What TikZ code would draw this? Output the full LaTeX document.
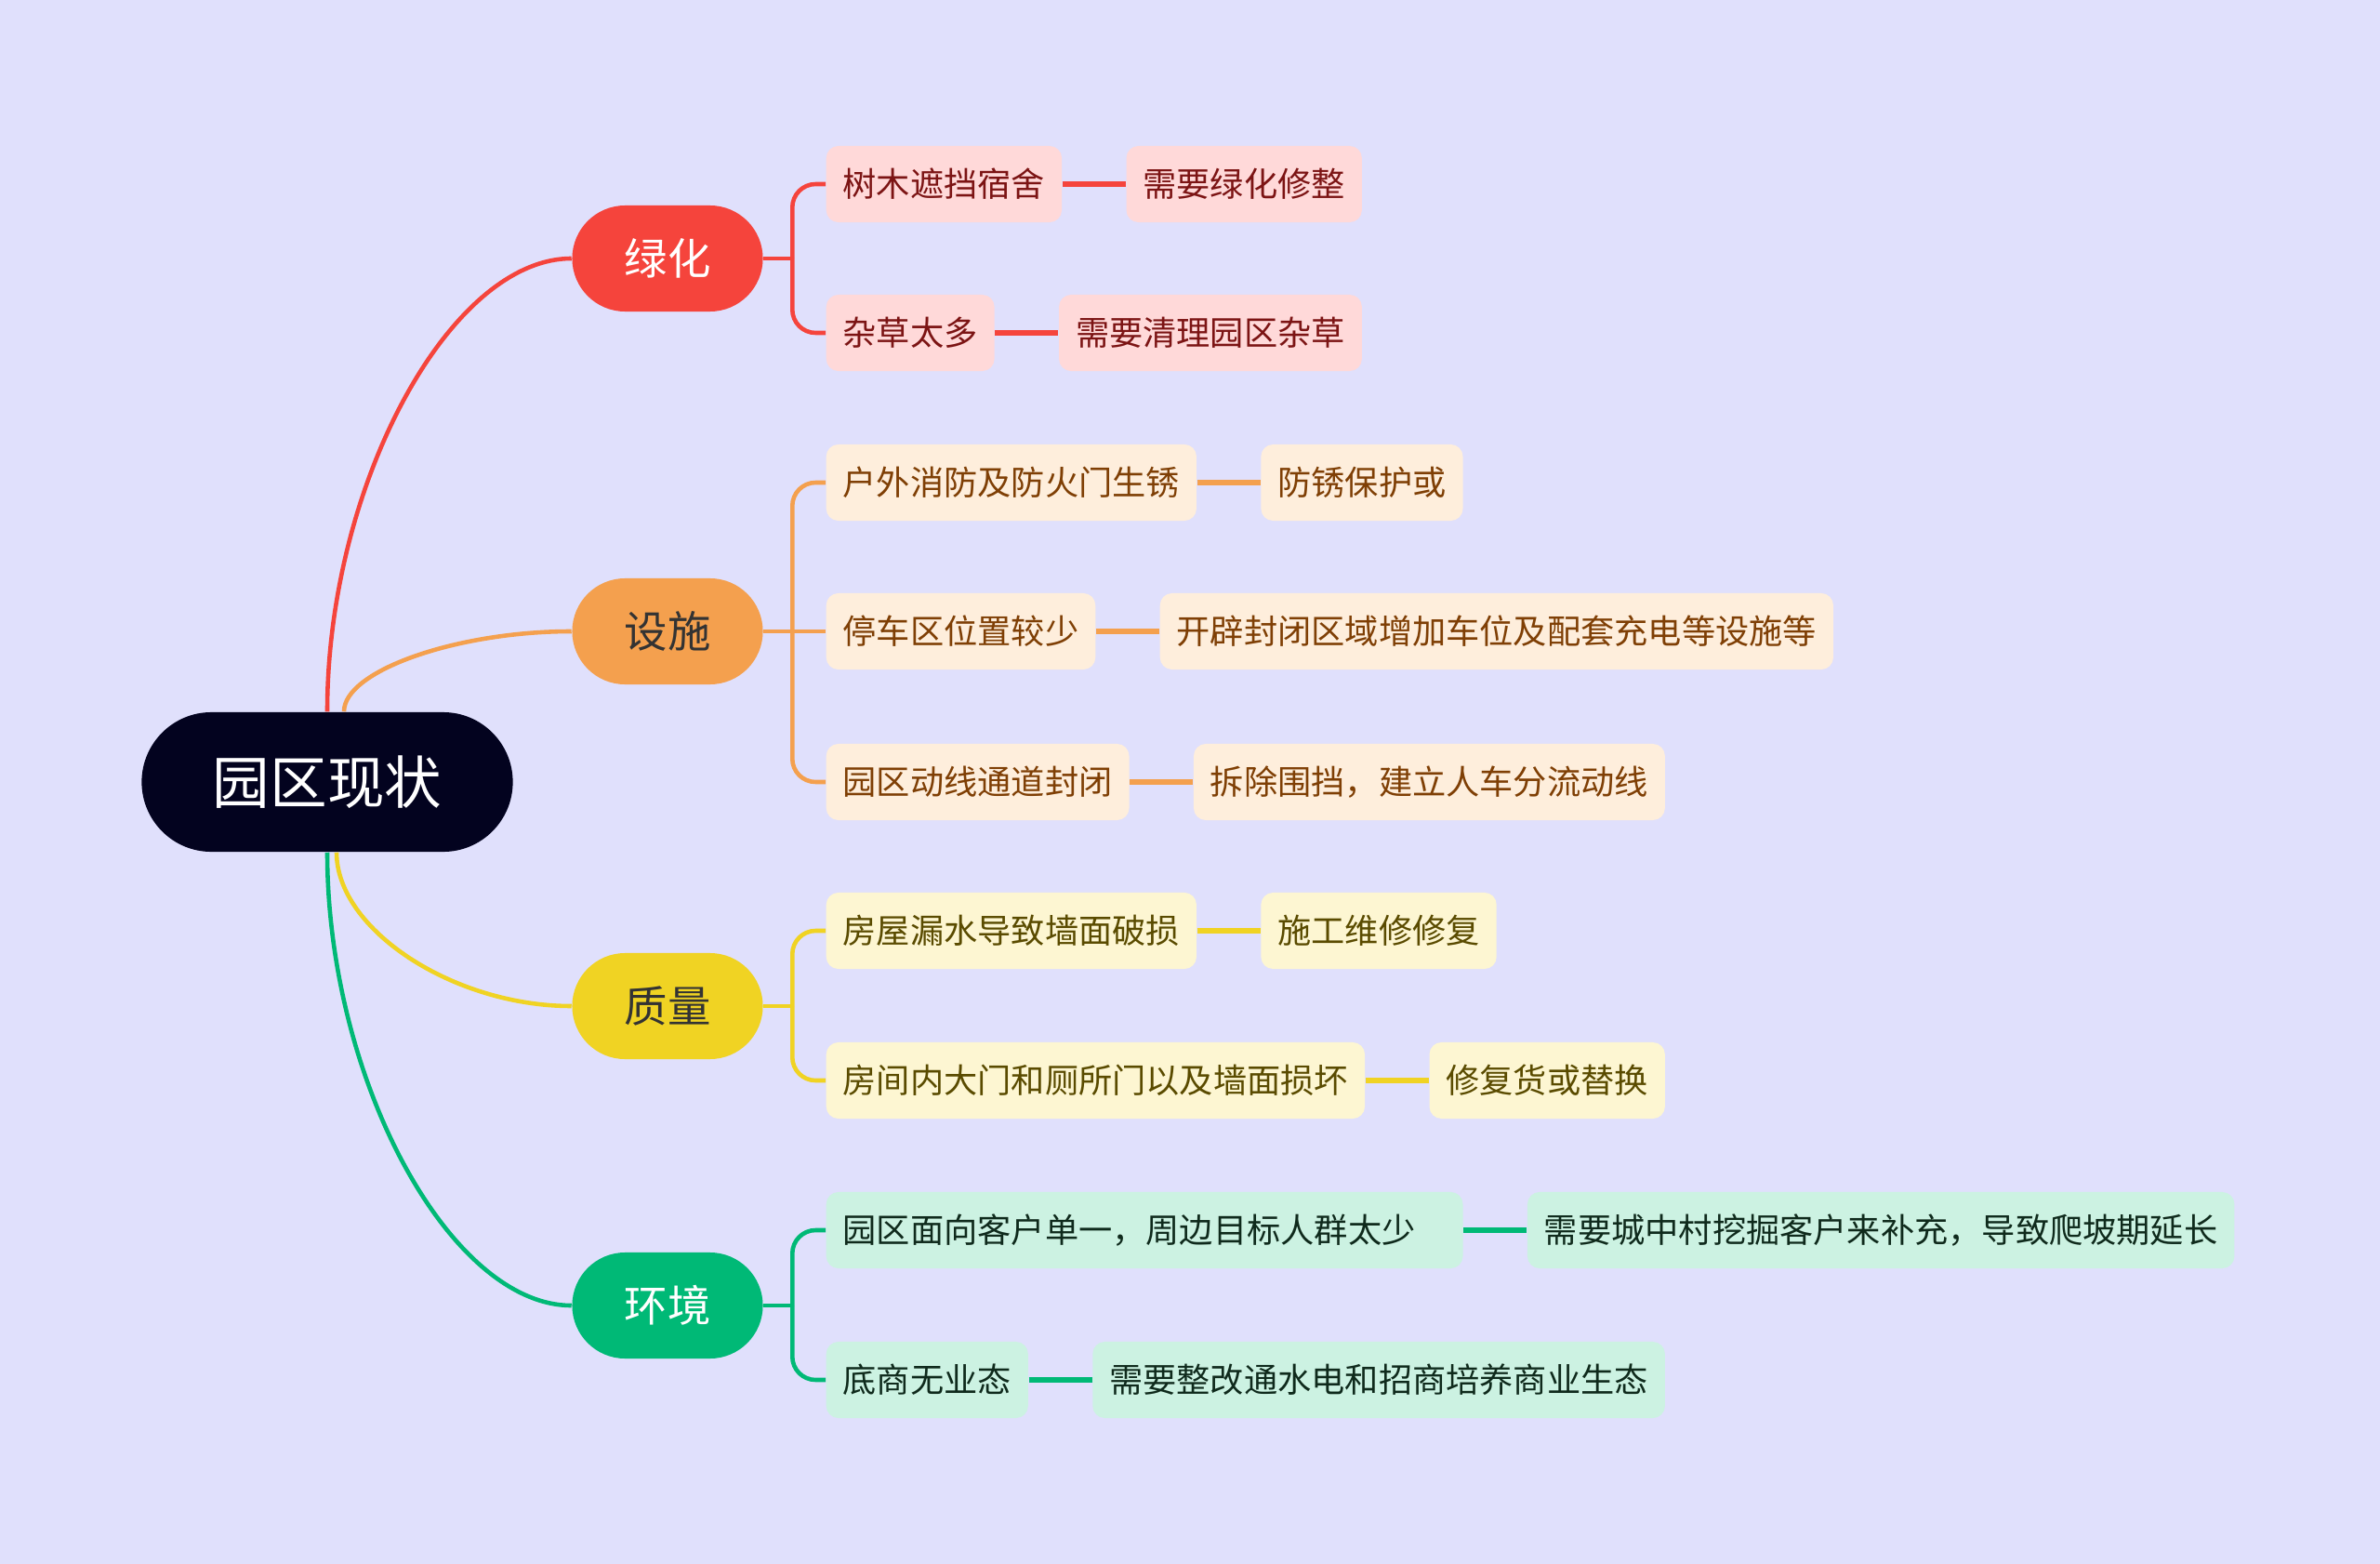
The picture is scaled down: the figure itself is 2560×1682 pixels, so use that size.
\documentclass[tikz,border=0pt]{standalone}
\usepackage{fontspec}
\newfontfamily\cjk{Noto Sans CJK SC}
\usetikzlibrary{positioning}
\definecolor{bgcol}{HTML}{E0E0FC}
\definecolor{rootcol}{HTML}{03031F}
\definecolor{redC}{HTML}{F5443C}
\definecolor{redL}{HTML}{FFD9D9}
\definecolor{redT}{HTML}{7C1414}
\definecolor{oraC}{HTML}{F4A04E}
\definecolor{oraL}{HTML}{FEEEDC}
\definecolor{oraT}{HTML}{7F3F05}
\definecolor{yelC}{HTML}{F0D323}
\definecolor{yelL}{HTML}{FDF6D2}
\definecolor{yelT}{HTML}{5A4B00}
\definecolor{grnC}{HTML}{00B976}
\definecolor{grnL}{HTML}{CCF2E2}
\definecolor{grnT}{HTML}{0F2A1C}
\begin{document}
\begin{tikzpicture}[x=0.01cm, y=-0.01cm]
  \tikzset{
    rootnode/.style={rectangle, fill=rootcol, text=white, minimum width=3.99cm,
                     minimum height=1.5cm, rounded corners=0.75cm,
                     font=\cjk\fontsize{17.5pt}{20pt}\selectfont},
    topic/.style={rectangle, minimum width=2.05cm, minimum height=1.14cm,
                  rounded corners=0.57cm, font=\cjk\fontsize{13.2pt}{16pt}\selectfont},
    leaf/.style={rectangle, minimum height=0.82cm, inner xsep=0.18cm,
                 rounded corners=0.13cm, font=\cjk\fontsize{10.3pt}{12pt}\selectfont},
    redleaf/.style={leaf, fill=redL, text=redT},
    oraleaf/.style={leaf, fill=oraL, text=oraT},
    yelleaf/.style={leaf, fill=yelL, text=yelT},
    grnleaf/.style={leaf, fill=grnL, text=grnT},
    branch/.style={line width=1.3pt},
    fork/.style={line width=1.3pt, rounded corners=0.25cm},
    stub/.style={line width=1.7pt},
  }
  \fill[bgcol] (0,0) rectangle (2560,1682);
  \useasboundingbox (0,0) rectangle (2560,1682);
  % Root and main topics
  \node[rootnode] (root) at (352,841) {园区现状};
  \node[topic, fill=redC, text=white]   (lvhua)    at (718,278)  {绿化};
  \node[topic, fill=oraC, text=black!80] (sheshi)  at (718,679)  {设施};
  \node[topic, fill=yelC, text=black!80] (zhiliang) at (718,1082) {质量};
  \node[topic, fill=grnC, text=white]   (huanjing) at (718,1404) {环境};
  % Root -> topics
  \draw[branch, redC] (root.north) .. controls +(0,-244) and +(-131,0) .. (lvhua.west);
  \draw[branch, oraC] ([xshift=0.18cm]root.north) .. controls +(0,-44) and +(-123,0) .. (sheshi.west);
  \draw[branch, yelC] ([xshift=0.1cm]root.south) .. controls +(0,83) and +(-127,0) .. (zhiliang.west);
  \draw[branch, grnC] (root.south) .. controls +(0,244) and +(-131,0) .. (huanjing.west);
  % Problems and solutions
  \node[redleaf, anchor=west] (lvq1) at (888,198) {树木遮挡宿舍};
  \node[redleaf, right=0.68cm of lvq1] (lvs1) {需要绿化修整};
  \node[redleaf, anchor=west] (lvq2) at (888,358) {杂草太多};
  \node[redleaf, right=0.68cm of lvq2] (lvs2) {需要清理园区杂草};
  \node[oraleaf, anchor=west] (ssq1) at (888,519) {户外消防及防火门生锈};
  \node[oraleaf, right=0.68cm of ssq1] (sss1) {防锈保护或};
  \node[oraleaf, anchor=west] (ssq2) at (888,679) {停车区位置较少};
  \node[oraleaf, right=0.68cm of ssq2] (sss2) {开辟封闭区域增加车位及配套充电等设施等};
  \node[oraleaf, anchor=west] (ssq3) at (888,841) {园区动线通道封闭};
  \node[oraleaf, right=0.68cm of ssq3] (sss3) {拆除围挡，建立人车分流动线};
  \node[yelleaf, anchor=west] (zlq1) at (888,1001) {房屋漏水导致墙面破损};
  \node[yelleaf, right=0.68cm of zlq1] (zls1) {施工维修修复};
  \node[yelleaf, anchor=west] (zlq2) at (888,1162) {房间内大门和厕所门以及墙面损坏};
  \node[yelleaf, right=0.68cm of zlq2] (zls2) {修复货或替换};
  \node[grnleaf, anchor=west] (hjq1) at (888,1323) {园区面向客户单一，周边目标人群太少\hspace*{0.33cm}};
  \node[grnleaf, right=0.68cm of hjq1] (hjs1) {需要城中村挖掘客户来补充，导致爬坡期延长};
  \node[grnleaf, anchor=west] (hjq2) at (888,1484) {底商无业态};
  \node[grnleaf, right=0.68cm of hjq2] (hjs2) {需要整改通水电和招商培养商业生态};
  % Forks
  \foreach \p/\col in {lvhua/redC, sheshi/oraC, zhiliang/yelC, huanjing/grnC}{
    \coordinate (\p-f) at ([xshift=0.31cm]\p.east);
    \draw[fork, \col] (\p.east) -- (\p-f);
  }
  \foreach \p/\c/\col in {lvhua/lvq1/redC, lvhua/lvq2/redC, sheshi/ssq1/oraC, sheshi/ssq3/oraC,
                          zhiliang/zlq1/yelC, zhiliang/zlq2/yelC, huanjing/hjq1/grnC, huanjing/hjq2/grnC}{
    \draw[fork, \col] (\p-f) |- (\c.west);
  }
  \draw[fork, oraC] (sheshi-f) -- (ssq2.west);
  % Stubs
  \foreach \a/\b/\col in {lvq1/lvs1/redC, lvq2/lvs2/redC, ssq1/sss1/oraC, ssq2/sss2/oraC,
                          ssq3/sss3/oraC, zlq1/zls1/yelC, zlq2/zls2/yelC, hjq1/hjs1/grnC, hjq2/hjs2/grnC}{
    \draw[stub, \col] (\a.east) -- (\b.west);
  }
\end{tikzpicture}
\end{document}
